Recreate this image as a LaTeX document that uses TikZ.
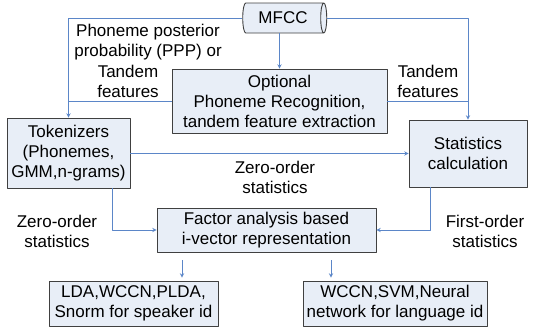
\documentclass[tikz,border=0pt]{standalone}
\usepackage{fontspec}
\setmainfont{Liberation Sans}
\usetikzlibrary{shapes.geometric}
\definecolor{boxfill}{HTML}{E8EEF7}
\definecolor{flow}{HTML}{5B86C8}
\definecolor{boxline}{HTML}{404040}
\begin{document}
\begin{tikzpicture}[x=1pt,y=-1pt,>=stealth,line join=round,
	font=\fontsize{17}{20}\selectfont,
	blk/.style={draw=boxline,fill=boxfill,line width=.9pt,align=center,inner sep=0pt},
	flw/.style={draw=flow,line width=.9pt},
	lbl/.style={align=center,inner sep=0pt}]
	\useasboundingbox (0,0) rectangle (533,332);
	% boxes
	\node[blk,cylinder,shape aspect=.5,minimum width=30pt,minimum height=84pt] (mfcc) at (283,18) {MFCC};
	\node[blk,minimum width=215pt,minimum height=64pt] (opt) at (279.5,101) {Optional\\Phoneme Recognition,\\tandem feature extraction};
	\node[blk,minimum width=123pt,minimum height=70pt] (tok) at (68.5,153) {Tokenizers\\(Phonemes,\\GMM,n-grams)};
	\node[blk,minimum width=118pt,minimum height=67pt] (stat) at (468,153.5) {Statistics\\calculation};
	\node[blk,minimum width=219pt,minimum height=44pt] (fac) at (266.5,230) {Factor analysis based\\i-vector representation};
	\node[blk,minimum width=169pt,minimum height=45pt] (spk) at (133.5,303.5) {LDA,WCCN,PLDA,\\Snorm for speaker id};
	\node[blk,minimum width=184pt,minimum height=45pt] (lang) at (395,303.5) {WCCN,SVM,Neural\\network for language id};
	% labels
	\node[lbl] (ppp) at (148,42) {Phoneme posterior\\probability (PPP) or};
	\node[lbl] (tanl) at (128,81) {Tandem\\features};
	\node[lbl] (tanr) at (428,81) {Tandem\\features};
	\node[lbl] (zmid) at (275,177) {Zero-order\\statistics};
	\node[lbl] (zleft) at (57,231) {Zero-order\\statistics};
	\node[lbl] (first) at (485,231) {First-order\\statistics};
	% connectors
	\draw[flw,->] (mfcc.west) -| (tok.north);
	\draw[flw,->] (mfcc.east) -| (stat.north);
	\draw[flw,->] (opt.north |- mfcc.south) -- (opt.north);
	\draw[flw] (opt.west) -- (tok.north |- opt.west);
	\draw[flw] (opt.east) -- (stat.north |- opt.east);
	\draw[flw,->] (tok.east |- stat.west) -- (stat.west);
	\draw[flw,->] ([xshift=43.5pt]tok.south) |- (fac.west);
	\draw[flw,->] ([xshift=-38pt]stat.south) |- (fac.east);
	\coordinate (s1) at (182,260);
	\coordinate (s2) at (331,260);
	\draw[flw,->,shorten >=3pt] (s1) -- (s1 |- spk.north);
	\draw[flw,->,shorten >=3pt] (s2) -- (s2 |- lang.north);
\end{tikzpicture}
\end{document}
